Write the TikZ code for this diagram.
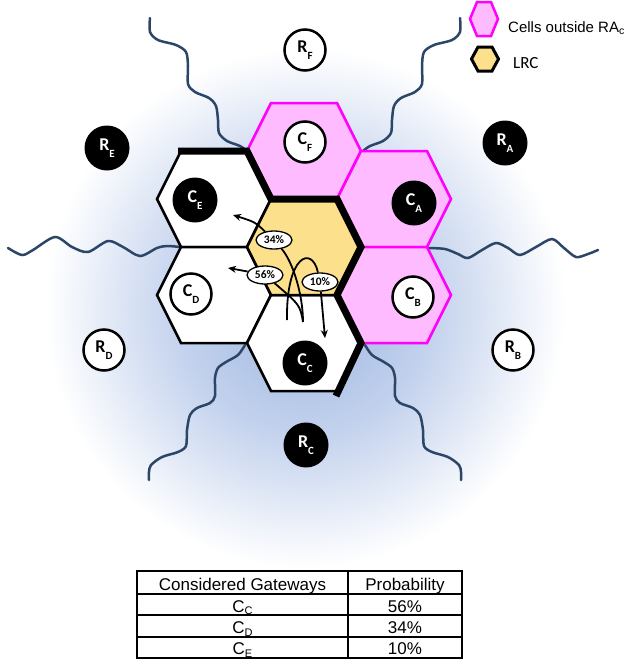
\documentclass[tikz,border=0pt]{standalone}
\usepackage{fontspec}
\setmainfont{Carlito}
\newfontfamily\arialfont{Liberation Sans}
\usetikzlibrary{arrows.meta,shapes.geometric}

\definecolor{cellmagenta}{RGB}{255,0,255}
\definecolor{cellpink}{RGB}{255,187,255}
\definecolor{lrcyellow}{RGB}{253,224,140}
\definecolor{wavecolor}{RGB}{44,70,104}
\definecolor{glowblue}{RGB}{172,193,230}
\definecolor{glowmid}{RGB}{194,209,237}

% glow behind the cluster (the path edge sits at 25bp)
\pgfdeclareradialshading{glow}{\pgfpoint{0bp}{0bp}}{color(0bp)=(glowblue); color(5bp)=(glowblue); color(12bp)=(glowmid); color(25bp)=(white); color(50bp)=(white)}

% gateway label with lowered index
\newcommand{\gw}[2]{#1\raisebox{-6.5pt}{\fontsize{11}{11}\selectfont #2}}
\newcommand{\tabsub}[2]{#1\raisebox{-2.5pt}{\fontsize{11}{11}\selectfont #2}}

\tikzset{
  hexcell/.pic={\path[pic actions] (-57,0) -- (-33,-48) -- (33,-48) -- (57,0) -- (33,48) -- (-33,48) -- cycle;},
  pinkcell/.style={draw=cellmagenta, fill=cellpink, line width=2.5pt, line join=miter},
  whitecell/.style={draw=black, fill=white, line width=2.5pt, line join=miter},
  lrccell/.style={draw=black, fill=lrcyellow, line width=2.5pt, line join=miter},
  raborder/.style={black, line width=7pt, line join=miter},
  gwblack/.style={circle, fill=black, text=white, minimum size=45pt, inner sep=0pt,
    font=\fontsize{18}{18}\selectfont\bfseries},
  gwwhite/.style={circle, draw=black, fill=white, line width=2.5pt, minimum size=41pt, inner sep=0pt,
    font=\fontsize{18}{18}\selectfont\bfseries},
  wave/.style={wavecolor, line width=2.5pt, line cap=round},
  prob/.style={ellipse, draw=black, fill=white, line width=1.3pt, minimum width=36pt,
    minimum height=18pt, inner sep=0pt, font=\fontsize{11.5}{11.5}\selectfont\bfseries},
  flowline/.style={black, line width=1.8pt},
  flow/.style={flowline, -{Stealth[length=8pt,width=7pt]}},
  tabtext/.style={anchor=base, inner sep=0pt, font=\arialfont\fontsize{17}{17}\selectfont},
}

\begin{document}
\begin{tikzpicture}[x=1pt, y=-1pt]
  \useasboundingbox (0,0) rectangle (627,659);
  \shade[shading=glow] (305,308) circle[radius=260pt];

  % cell centres
  \coordinate (lrc) at (304,247);
  \coordinate (hexF) at (304,151);
  \coordinate (hexA) at (394,199);
  \coordinate (hexB) at (394,295);
  \coordinate (hexC) at (304,343);
  \coordinate (hexD) at (214,295);
  \coordinate (hexE) at (214,199);

  % wavy boundaries between the regions
  \draw[wave] plot[smooth] coordinates {(150,18) (150,32) (158,40) (176,45) (186,52) (188,66) (188,84)
    (195,92) (209,98) (216,106) (218,120) (219,133) (227,141) (240,146) (247,151)};
  \draw[wave] plot[smooth] coordinates {(460,18) (460,32) (452,40) (434,45) (424,52) (422,66) (422,84)
    (415,92) (401,98) (394,106) (392,120) (391,133) (383,141) (370,146) (363,151)};
  \draw[wave] plot[smooth] coordinates {(245,345) (238,355) (226,362) (218,368) (215,378) (215,396)
    (210,403) (197,408) (190,415) (187,430) (186,446) (178,452) (162,457) (151,465) (149,472) (149,480)};
  \draw[wave] plot[smooth] coordinates {(365,345) (372,355) (384,362) (392,368) (395,378) (395,396)
    (400,403) (413,408) (420,415) (423,430) (424,446) (432,452) (448,457) (459,465) (461,472) (461,480)};
  \draw[wave] plot[smooth] coordinates {(8,248) (22,255) (33,250) (55,237) (72,247) (88,252) (108,241)
    (123,247) (140,256) (157,248) (167,246) (180,247)};
  \draw[wave] plot[smooth] coordinates {(428,248) (445,249) (458,254) (468,258) (482,250) (496,243)
    (508,248) (520,255) (536,247) (552,239) (564,248) (576,257) (588,254) (598,250)};

  % cells
  \foreach \h in {hexF,hexA,hexB} \pic[pinkcell] at (\h) {hexcell};
  \foreach \h in {hexE,hexD,hexC} \pic[whitecell] at (\h) {hexcell};
  \pic[lrccell] at (lrc) {hexcell};
  \draw[raborder] (178,151) -- (247,151) -- (271,199) -- (337,199) -- (361,247) -- (337,295)
    -- (361,343) -- (336,396);

  % gateways in the cells
  \node[gwwhite] (cF) at (305,142) {\gw{C}{F}};
  \node[gwblack] (cA) at (414,203) {\gw{C}{A}};
  \node[gwwhite] (cB) at (413,297) {\gw{C}{B}};
  \node[gwblack] (cC) at (305,363) {\gw{C}{C}};
  \node[gwwhite] (cD) at (191,294) {\gw{C}{D}};
  \node[gwblack] (cE) at (195,200) {\gw{C}{E}};

  % routers outside
  \node[gwwhite] (rF) at (305,50) {\gw{R}{F}};
  \node[gwblack] (rA) at (505,143) {\gw{R}{A}};
  \node[gwwhite] (rB) at (513,350) {\gw{R}{B}};
  \node[gwblack] (rC) at (306,445) {\gw{R}{C}};
  \node[gwwhite] (rD) at (104,350) {\gw{R}{D}};
  \node[gwblack] (rE) at (107,148) {\gw{R}{E}};

  % handover probabilities
  \coordinate (srcA) at (303,322);
  \coordinate (srcB) at (287,320);
  \coordinate (tipE) at (233,215);
  \coordinate (tipD) at (228,268);
  \coordinate (tipC) at (325,338);
  \node[prob] (p34) at (274,240) {34\%};
  \node[prob] (p56) at (265,275) {56\%};
  \node[prob] (p10) at (320,282) {10\%};
  \draw[flowline] (srcA) .. controls (303,295) and (293,262) .. (p34);
  \draw[flow] (p34) .. controls (255,222) .. (tipE);
  \draw[flowline] (srcA) .. controls (300,305) .. (p56);
  \draw[flow] (p56) .. controls (240,270) .. (tipD);
  \draw[flowline] (srcB) .. controls (286,255) and (312,245) .. (p10);
  \draw[flow] (p10) -- (tipC);

  % legend
  \draw[pinkcell, shift={(484,19)}] (-14,0) -- (-7,-17) -- (7,-17) -- (14,0) -- (7,17) -- (-7,17) -- cycle;
  \node[anchor=base west, inner sep=0pt, font=\arialfont\fontsize{15}{15}\selectfont] (keyOut)
    at (508,32) {Cells outside RA\textsubscript{c}};
  \draw[lrccell, line width=3pt, shift={(485,59)}] (-13.5,0) -- (-7,-12) -- (7,-12) -- (13.5,0) -- (7,12)
    -- (-7,12) -- cycle;
  \node[anchor=base west, inner sep=0pt, font=\fontsize{17}{17}\selectfont] (keyLrc) at (513,68) {LRC};

  % table of considered gateways
  \draw[line width=1.6pt] (137,571) rectangle (462,658);
  \draw[line width=1.6pt] (348,571) -- (348,658);
  \foreach \y in {594,615,637} \draw[line width=1.6pt] (137,\y) -- (462,\y);
  \node[tabtext] (hGw) at (242.5,590.5) {Considered Gateways};
  \node[tabtext] (hPr) at (405,590.5) {Probability};
  \node[tabtext] (gC) at (242.5,612) {\tabsub{C}{C}};
  \node[tabtext] (gD) at (242.5,633.5) {\tabsub{C}{D}};
  \node[tabtext] (gE) at (242.5,654.5) {\tabsub{C}{E}};
  \node[tabtext] (prC) at (405,612) {56\%};
  \node[tabtext] (prD) at (405,633.5) {34\%};
  \node[tabtext] (prE) at (405,654.5) {10\%};
\end{tikzpicture}
\end{document}
